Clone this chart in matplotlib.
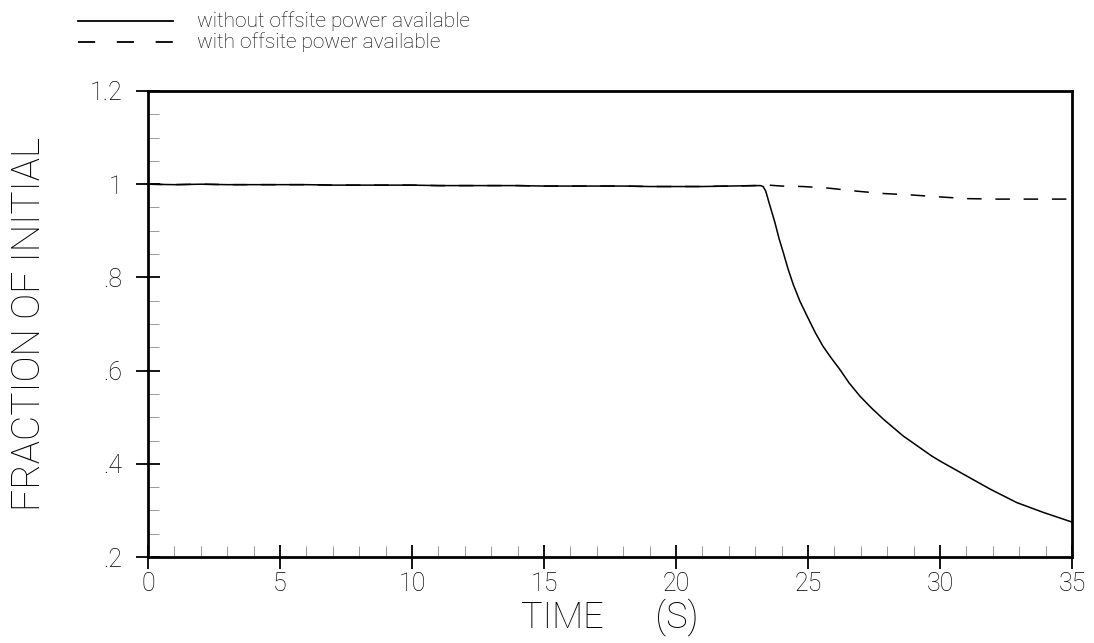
import matplotlib
matplotlib.use("Agg")
import matplotlib.pyplot as plt
from matplotlib.lines import Line2D
from matplotlib.ticker import MultipleLocator, FuncFormatter

# ---- data ----
flat_time = [0.0, 1.0, 2.0, 3.0, 4.0, 5.0, 6.0, 7.0, 8.0, 9.0, 10.0, 11.0, 12.0,
             13.0, 14.0, 15.0, 16.0, 17.0, 18.0, 19.0, 20.0, 21.0, 22.0, 23.0, 23.2]
flat_value = [1.000, 0.999, 1.000, 0.999, 0.999, 0.999, 0.999, 0.998, 0.998, 0.998,
              0.998, 0.997, 0.997, 0.997, 0.997, 0.996, 0.996, 0.996, 0.996, 0.995,
              0.995, 0.995, 0.996, 0.997, 0.997]

no_offsite_time = [23.3, 23.4, 23.5, 23.62, 23.75, 23.9, 24.07, 24.25, 24.44, 24.7,
                   25.0, 25.28, 25.57, 25.88, 26.2, 26.55, 26.97, 27.4, 27.85, 28.6,
                   29.68, 30.0, 30.88, 31.89, 32.9, 33.9, 35.0]
no_offsite_value = [0.995, 0.985, 0.965, 0.942, 0.917, 0.884, 0.852, 0.817, 0.785,
                    0.748, 0.713, 0.681, 0.652, 0.627, 0.603, 0.574, 0.545, 0.520,
                    0.496, 0.460, 0.417, 0.406, 0.378, 0.346, 0.317, 0.296, 0.275]

offsite_time = [23.5, 24.0, 24.8, 25.7, 26.85, 27.85, 28.9, 29.9, 31.05, 32.2, 33.2, 35.0]
offsite_value = [0.998, 0.996, 0.995, 0.992, 0.985, 0.980, 0.977, 0.973, 0.969,
                 0.968, 0.968, 0.968]

x_ticks = [0, 5, 10, 15, 20, 25, 30, 35]
y_ticks = [0.2, 0.4, 0.6, 0.8, 1.0, 1.2]
legend_labels = ["without offsite power available", "with offsite power available"]
x_label = "TIME      (S)"
y_label = "FRACTION OF INITIAL"

plt.rcParams["font.family"] = ["Roboto", "DejaVu Sans"]
plt.rcParams["font.weight"] = "light"
plt.rcParams["axes.labelweight"] = "light"

fig = plt.figure(figsize=(10.94, 6.43), dpi=100)
ax = fig.add_axes([0.1353, 0.1337, 0.8446, 0.7248])

solid_t = flat_time + no_offsite_time
solid_v = flat_value + no_offsite_value
dash_t = flat_time + offsite_time
dash_v = flat_value + offsite_value

ax.plot(dash_t, dash_v, color="black", lw=1.1, linestyle=(0, (9.5, 9.0)))
ax.plot(solid_t, solid_v, color="black", lw=1.1)

ax.set_xlim(0, 35)
ax.set_ylim(0.2, 1.2)
ax.set_xticks(x_ticks)
ax.set_yticks(y_ticks)
ax.xaxis.set_minor_locator(MultipleLocator(1))
ax.yaxis.set_minor_locator(MultipleLocator(0.05))

def yfmt(v, pos):
    s = ("%g" % round(v, 2))
    if s.startswith("0."):
        s = s[1:]
    return s

ax.yaxis.set_major_formatter(FuncFormatter(yfmt))

for s in ax.spines.values():
    s.set_linewidth(2.0)

ax.tick_params(which="major", direction="inout", length=17, width=1.3,
               labelsize=18, top=False, right=False, pad=2)
ax.tick_params(which="minor", direction="in", length=8, width=0.7,
               color="#999999", top=False, right=False)
ax.tick_params(axis="y", which="major", pad=10)

ax.set_xlabel(x_label, fontsize=26, labelpad=2, fontweight="light")
ax.set_ylabel(y_label, fontsize=28, labelpad=30, fontweight="light")

# legend drawn in figure coordinates
fig.add_artist(Line2D([0.0713, 0.158], [1 - 21 / 643, 1 - 21 / 643],
                      transform=fig.transFigure, color="black", lw=1.3))
fig.add_artist(Line2D([0.0713, 0.158], [1 - 42 / 643, 1 - 42 / 643],
                      transform=fig.transFigure, color="black", lw=1.3,
                      linestyle=(0, (9.5, 12.0))))
fig.text(0.18, 1 - 21 / 643, legend_labels[0], fontsize=15, va="center", ha="left")
fig.text(0.18, 1 - 42 / 643, legend_labels[1], fontsize=15, va="center", ha="left")

fig.savefig("out.png", dpi=100)
